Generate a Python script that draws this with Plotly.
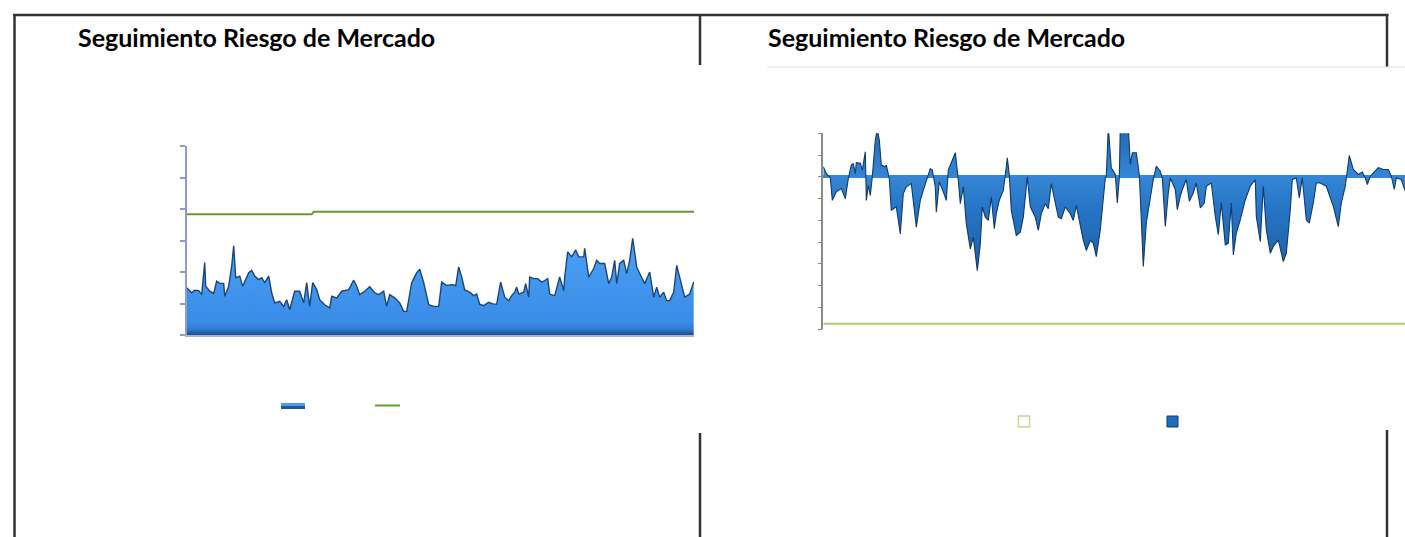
import plotly.graph_objects as go

W, H = 1405, 537

# ---------------- DATA ----------------
# Left chart: VaR-like series (day index, value)
left_days = [0, 5, 8, 12, 15, 18, 19, 23, 27, 30, 33, 37, 38, 42, 45, 47, 49, 53, 56, 58,
             62, 65, 68, 72, 75, 78, 82, 85, 88, 93, 97, 100, 103, 108, 113, 117, 120, 123, 126, 130,
             133, 138, 143, 145, 150, 155, 162, 167, 170, 173, 178, 183, 188, 192, 197, 200, 203, 208, 213, 217,
             220, 225, 230, 233, 237, 242, 247, 252, 255, 260, 265, 269, 272, 275, 278, 283, 287, 290, 293, 297,
             302, 307, 310, 314, 318, 322, 325, 328, 330, 332, 337, 339, 342, 343, 347, 351, 355, 358, 361, 363,
             368, 373, 377, 378, 381, 385, 389, 392, 397, 398, 402, 407, 410, 413, 418, 422, 425, 428, 430, 433,
             437, 440, 443, 446, 450, 453, 458, 463, 467, 470, 473, 477, 480, 483, 487, 490, 493, 498, 503, 507]
left_values = [1.50, 1.34, 1.42, 1.41, 1.28, 2.30, 1.55, 1.39, 1.32, 1.71, 1.64, 1.64, 1.23, 1.55, 2.19, 2.83, 1.82, 1.87, 1.55, 1.71,
               1.98, 2.05, 1.87, 1.76, 1.82, 1.66, 1.87, 1.34, 1.02, 1.07, 0.91, 1.12, 0.80, 1.39, 1.39, 1.02, 1.66, 0.91, 1.66, 1.44,
               1.12, 0.96, 0.86, 1.23, 1.18, 1.39, 1.44, 1.74, 1.55, 1.28, 1.39, 1.53, 1.34, 1.28, 1.39, 0.91, 1.28, 1.18, 1.02, 0.75,
               0.75, 1.66, 1.98, 2.09, 1.66, 0.96, 0.91, 0.91, 1.68, 1.57, 1.60, 1.57, 2.16, 1.84, 1.43, 1.36, 1.25, 1.30, 0.98, 0.93,
               1.04, 0.98, 0.98, 1.68, 1.20, 1.09, 1.25, 1.36, 1.52, 1.30, 1.36, 1.63, 1.20, 1.84, 1.79, 1.79, 1.68, 1.73, 1.79, 1.30,
               1.25, 1.84, 1.41, 1.84, 2.64, 2.48, 2.70, 2.48, 2.48, 2.75, 1.84, 2.11, 2.37, 2.27, 2.27, 1.63, 1.84, 2.37, 1.63, 2.27,
               2.37, 1.95, 2.37, 3.07, 2.16, 1.95, 1.63, 2.00, 1.20, 1.52, 1.20, 1.36, 1.09, 1.09, 1.36, 2.21, 1.84, 1.20, 1.30, 1.68]
# Left limit line (step)
limit_days = [0, 125, 127, 507.6]
limit_values = [3.83, 3.83, 3.91, 3.91]

# Right chart: result series (day index, value)
right_days = [0, 3, 7, 9, 13, 18, 22, 25, 28, 30, 32, 33, 37, 39, 42, 43, 45, 47, 49, 52,
              54, 56, 58, 62, 63, 66, 68, 73, 77, 80, 83, 88, 93, 97, 100, 103, 107, 109, 112, 113,
              116, 120, 123, 125, 128, 132, 135, 137, 140, 143, 147, 150, 154, 157, 159, 162, 165, 168, 171, 173,
              176, 180, 183, 184, 186, 188, 193, 197, 200, 203, 204, 207, 212, 215, 218, 222, 225, 228, 232, 235,
              238, 242, 247, 250, 253, 257, 260, 263, 267, 270, 273, 277, 282, 283, 285, 288, 292, 294, 296, 297,
              305, 307, 309, 313, 316, 318, 320, 323, 327, 330, 333, 337, 339, 342, 345, 347, 352, 354, 357, 359,
              363, 366, 370, 373, 377, 381, 383, 388, 392, 395, 398, 402, 405, 408, 410, 413, 417, 422, 427, 432,
              433, 437, 440, 443, 447, 450, 455, 460, 463, 467, 469, 473, 476, 479, 483, 486, 490, 493, 497, 503,
              510, 515, 518, 522, 523, 526, 530, 535, 539, 542, 544, 547, 550, 555, 560, 565, 568, 571, 573, 578,
              582, 586]
right_values = [0.46, 0.15, -0.03, -1.08, -0.69, -0.54, -1.00, -0.08, 0.54, 0.62, 0.15, 0.65, 0.62, 0.31, 1.15, -1.08, -0.38, -0.85, 0.00, 1.69,
                2.20, 1.69, 0.54, 0.46, 0.54, -0.08, -1.54, -1.38, -2.62, -0.77, -0.46, -0.31, -2.31, -1.08, -0.62, -0.15, 0.38, 0.31, -0.46, -1.62,
                -0.23, -0.69, -1.08, 0.31, 0.69, 1.11, -0.15, -1.23, -0.46, -2.15, -3.31, -2.77, -4.31, -3.08, -1.38, -1.85, -2.00, -0.92, -2.38, -1.69,
                -1.08, -0.62, 0.46, 0.88, 0.08, -1.54, -2.69, -2.54, -1.85, -0.46, 0.00, -1.38, -1.85, -2.46, -1.69, -1.23, -1.46, -0.31, -1.23, -1.85,
                -1.92, -1.38, -1.69, -2.00, -1.31, -2.31, -2.92, -3.38, -2.92, -3.05, -3.66, -2.43, -0.05, 0.03, 2.30, 0.42, 0.11, -1.20, -0.05, 2.30,
                2.30, 0.57, 1.11, 1.11, 0.11, -1.97, -4.12, -2.12, -0.89, -0.12, 0.49, 0.26, -0.05, -2.28, -0.74, -0.05, -0.58, -1.51, -0.89, -0.58,
                -0.12, -1.12, -0.74, -0.28, -1.43, -1.20, -0.43, -0.28, -1.82, -2.66, -1.20, -3.12, -3.05, -1.20, -3.58, -2.58, -1.97, -1.05, -0.43, -0.12,
                -1.82, -2.97, -0.43, -2.43, -3.51, -3.20, -2.89, -3.89, -3.51, -1.51, -0.12, -0.05, -0.97, -0.05, -1.97, -2.12, -1.20, -0.28, -0.28, -0.43,
                -1.35, -2.28, -1.20, -0.43, -0.05, 0.98, 0.34, 0.11, 0.22, -0.05, -0.35, 0.03, 0.18, 0.42, 0.34, 0.34, 0.03, -0.58, -0.05, -0.12,
                -0.66, -0.30]
right_limit_days = [0, 600]
right_limit_values = [-6.74, -6.74]

title_text = "Seguimiento Riesgo de Mercado"

# ---------------- helpers (layout only) ----------------
def px(x):
    return x / W

def py(y):
    return 1 - y / H

fig = go.Figure()

# Left chart traces
fig.add_trace(go.Scatter(
    x=left_days, y=left_values, mode="lines", fill="tozeroy",
    line=dict(color="#1c4577", width=1.4),
    fillgradient=dict(type="vertical", start=0, stop=3.1,
                      colorscale=[[0, "#1d4b88"], [0.06, "#2f7cd3"], [0.13, "#3a8ce6"], [1, "#4aa2f6"]]),
    xaxis="x", yaxis="y", showlegend=False, hoverinfo="skip"))
fig.add_trace(go.Scatter(
    x=limit_days, y=limit_values, mode="lines",
    line=dict(color="#6a9a2e", width=2),
    xaxis="x", yaxis="y", showlegend=False, hoverinfo="skip"))

# Right chart traces
fig.add_trace(go.Scatter(
    x=right_days, y=right_values, mode="lines", fill="tozeroy",
    line=dict(color="#0f3b6b", width=1.1),
    fillgradient=dict(type="vertical", start=-4.4, stop=2.3,
                      colorscale=[[0, "#1d5fa6"], [0.45, "#2775c6"], [0.66, "#3586d6"], [1, "#2168b3"]]),
    xaxis="x2", yaxis="y2", showlegend=False, hoverinfo="skip"))
fig.add_trace(go.Scatter(
    x=right_limit_days, y=right_limit_values, mode="lines",
    line=dict(color="#a9d064", width=2),
    xaxis="x2", yaxis="y2", showlegend=False, hoverinfo="skip"))

# Frame lines
frame = "#333333"
shapes = [
    dict(type="line", xref="paper", yref="paper", x0=px(13), x1=px(1388.5), y0=py(15), y1=py(15),
         line=dict(color=frame, width=2.5)),
    dict(type="line", xref="paper", yref="paper", x0=px(14.5), x1=px(14.5), y0=py(14), y1=py(537),
         line=dict(color=frame, width=2.5)),
    dict(type="line", xref="paper", yref="paper", x0=px(700), x1=px(700), y0=py(14), y1=py(65),
         line=dict(color=frame, width=2.5)),
    dict(type="line", xref="paper", yref="paper", x0=px(700), x1=px(700), y0=py(433), y1=py(537),
         line=dict(color=frame, width=2.5)),
    dict(type="line", xref="paper", yref="paper", x0=px(1387), x1=px(1387), y0=py(14), y1=py(67),
         line=dict(color=frame, width=2.5)),
    dict(type="line", xref="paper", yref="paper", x0=px(1387), x1=px(1387), y0=py(430), y1=py(537),
         line=dict(color=frame, width=2.5)),
    dict(type="line", xref="paper", yref="paper", x0=px(767), x1=px(1405), y0=py(67), y1=py(67),
         line=dict(color="#e2e2e2", width=1.2)),
    # Left legend glyphs
    dict(type="rect", xref="paper", yref="paper", x0=px(281), x1=px(305), y0=py(406), y1=py(403),
         fillcolor="#4a9ff2", line=dict(width=0)),
    dict(type="rect", xref="paper", yref="paper", x0=px(281), x1=px(305), y0=py(409), y1=py(406),
         fillcolor="#24569a", line=dict(width=0)),
    dict(type="line", xref="paper", yref="paper", x0=px(375), x1=px(400), y0=py(405.5), y1=py(405.5),
         line=dict(color="#6a9a2e", width=2)),
    # Right legend glyphs
    dict(type="rect", xref="paper", yref="paper", x0=px(1018.5), x1=px(1029.5), y0=py(427), y1=py(416),
         fillcolor="white", line=dict(color="#c3da98", width=1.5)),
    dict(type="rect", xref="paper", yref="paper", x0=px(1167), x1=px(1178), y0=py(427), y1=py(416),
         fillcolor="#1f6cbd", line=dict(color="#0e3d6e", width=1)),
]

annotations = [
    dict(text="<b>%s</b>" % title_text, xref="paper", yref="paper", x=px(76), y=py(37.5),
         xanchor="left", yanchor="middle", showarrow=False,
         font=dict(family="Lato", size=25, color="#000000")),
    dict(text="<b>%s</b>" % title_text, xref="paper", yref="paper", x=px(766), y=py(37.5),
         xanchor="left", yanchor="middle", showarrow=False,
         font=dict(family="Lato", size=25, color="#000000")),
]

left_axis_col = "#8f9cc9"
fig.update_layout(
    width=W, height=H, autosize=False,
    margin=dict(l=0, r=0, t=0, b=0, pad=0),
    paper_bgcolor="white", plot_bgcolor="rgba(0,0,0,0)",
    showlegend=False,
    shapes=shapes, annotations=annotations,
    xaxis=dict(domain=[px(186.7), px(694.3)], range=[0, 507.6], anchor="y",
               showline=True, linecolor="#a9b2da", linewidth=2, ticks="",
               showticklabels=False, showgrid=False, zeroline=False, fixedrange=True),
    yaxis=dict(domain=[py(335), py(146)], range=[0, 6], anchor="x", dtick=1,
               showline=True, linecolor=left_axis_col, linewidth=2,
               ticks="outside", ticklen=5, tickwidth=1.5, tickcolor=left_axis_col,
               showticklabels=False, showgrid=False, zeroline=False, fixedrange=True),
    xaxis2=dict(domain=[px(823.3), 1], range=[0, 581.7], anchor="y2",
                showline=False, ticks="", showticklabels=False, showgrid=False,
                zeroline=False, fixedrange=True),
    yaxis2=dict(domain=[py(329.3), py(133.3)], range=[-7, 2], anchor="x2", dtick=1,
                showline=True, linecolor="#8a8a8a", linewidth=1.5,
                ticks="outside", ticklen=4, tickwidth=1, tickcolor="#8a8a8a",
                showticklabels=False, showgrid=False,
                zeroline=True, zerolinecolor="#3a86d6", zerolinewidth=3, fixedrange=True),
)

fig.write_html("out.html")
